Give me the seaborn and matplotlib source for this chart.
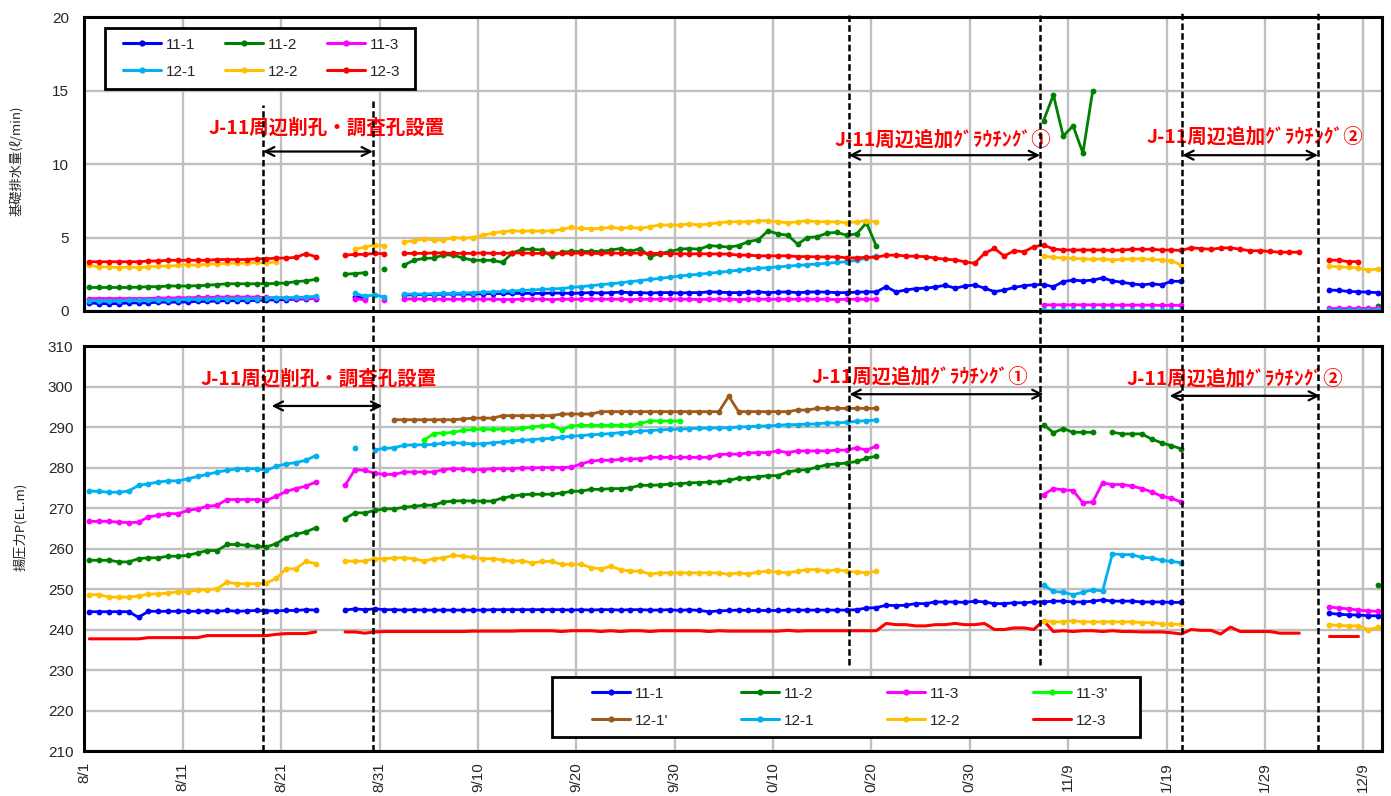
import numpy as np
import pandas as pd
import matplotlib
matplotlib.use("Agg")
import matplotlib.pyplot as plt
import seaborn as sns
from matplotlib.lines import Line2D
from matplotlib.patches import Rectangle
from matplotlib import transforms

# ------------------------------------------------------------------ data
N_DAYS = 132                      # 8/1 .. 12/10
TICK_DAYS = list(range(0, 131, 10))
TICK_LABELS = ["8/1", "8/11", "8/21", "8/31", "9/10", "9/20", "9/30",
               "0/10", "0/20", "0/30", "11/9", "1/19", "1/29", "12/9"]

NAMES_TOP = ["11-1", "11-2", "11-3", "12-1", "12-2", "12-3"]
NAMES_BOT = ["11-1", "11-2", "11-3", "11-3'", "12-1'", "12-1", "12-2", "12-3"]

# ---- foundation drainage (l/min), chunks start at the given date
F11_1 = [("8/1", [0.55, 0.5, 0.5, 0.5, 0.55, 0.55, 0.55, 0.6, 0.6, 0.6,
                  0.62, 0.65, 0.65, 0.68, 0.7, 0.7, 0.7, 0.72, 0.75, 0.75,
                  0.78, 0.8, 0.82, 0.85]),
         ("8/28", [0.95, 0.9]),
         ("9/2", [1.1, 1.1, 1.12, 1.12, 1.15, 1.15, 1.15, 1.15, 1.18, 1.18,
                  1.2, 1.2, 1.2, 1.2, 1.2, 1.22]),
         ("9/18", [1.22, 1.2, 1.22, 1.25, 1.22, 1.25, 1.28, 1.25, 1.25, 1.22,
                   1.25, 1.25, 1.22, 1.25, 1.25, 1.3, 1.28, 1.25, 1.25, 1.28,
                   1.3, 1.25, 1.28, 1.3, 1.25, 1.28, 1.3, 1.28, 1.25, 1.25,
                   1.28, 1.3, 1.3]),
         ("10/21", [1.65, 1.3, 1.43, 1.52, 1.55, 1.63, 1.75, 1.55, 1.7, 1.77,
                    1.55, 1.32, 1.42, 1.6, 1.72, 1.78]),
         ("11/6", [1.8, 1.65, 2.0, 2.1, 2.05, 2.1, 2.25, 2.05, 1.95, 1.85,
                   1.77, 1.85, 1.78, 2.02, 2.02]),
         ("12/5", [1.43, 1.4, 1.33, 1.31, 1.28, 1.25])]

F11_2 = [("8/1", [1.6, 1.6, 1.6, 1.6, 1.6, 1.62, 1.65, 1.65, 1.7, 1.7,
                  1.7, 1.72, 1.75, 1.8, 1.85, 1.85, 1.85, 1.85, 1.85, 1.88,
                  1.9, 2.0, 2.05, 2.15]),
         ("8/27", [2.5, 2.55, 2.6]),
         ("8/31", [2.85]),
         ("9/2", [3.13, 3.45, 3.58, 3.6, 3.82, 3.8, 3.6, 3.45, 3.45, 3.45,
                  3.3, 3.95, 4.2, 4.2, 4.15, 3.72, 4.0, 4.05, 4.05, 4.05,
                  4.05, 4.15, 4.25, 4.05, 4.25, 3.7, 3.9, 4.05, 4.2, 4.25,
                  4.2, 4.45, 4.4, 4.35, 4.45, 4.72, 4.85, 5.45, 5.25, 5.15,
                  4.55, 5.0, 5.05, 5.3, 5.35, 5.15, 5.25, 6.0, 4.41]),
         ("11/6", [12.95, 14.7, 11.9, 12.6, 10.75, 15.0]),
         ("12/10", [0.35])]

F11_3 = [("8/1", [0.85, 0.85, 0.85, 0.85, 0.85, 0.85, 0.85, 0.88, 0.88, 0.9,
                  0.9, 0.92, 0.92, 0.95, 0.95, 0.95, 0.95, 0.95, 0.92, 0.9,
                  0.88, 0.86, 0.86, 0.86]),
         ("8/28", [0.85, 0.75]),
         ("8/31", [0.75]),
         ("9/2", [0.82, 0.82, 0.8, 0.8, 0.8, 0.8, 0.8, 0.8, 0.8, 0.8,
                  0.78, 0.78, 0.8, 0.8, 0.8, 0.78, 0.8, 0.8, 0.8, 0.8,
                  0.8, 0.8, 0.8, 0.78, 0.8, 0.8, 0.8, 0.8, 0.8, 0.8,
                  0.78, 0.8, 0.8, 0.8, 0.78, 0.8, 0.8, 0.8, 0.8, 0.8,
                  0.8, 0.8, 0.8, 0.8, 0.78, 0.8, 0.8, 0.8, 0.8]),
         ("11/6", [0.42, 0.42, 0.42, 0.42, 0.42, 0.42, 0.42, 0.4, 0.4, 0.4,
                   0.4, 0.4, 0.38, 0.38, 0.38]),
         ("12/5", [0.2, 0.2, 0.2, 0.2, 0.2, 0.2])]

F12_1 = [("8/1", [0.7, 0.7, 0.7, 0.7, 0.72, 0.72, 0.75, 0.75, 0.75, 0.78,
                  0.8, 0.8, 0.8, 0.82, 0.85, 0.85, 0.85, 0.85, 0.88, 0.9,
                  0.9, 0.92, 0.95, 1.0]),
         ("8/28", [1.2, 1.0, 1.1, 0.95]),
         ("9/2", [1.15, 1.15, 1.15, 1.18, 1.2, 1.2, 1.22, 1.25, 1.28, 1.3,
                  1.33, 1.36, 1.4, 1.43, 1.47, 1.5, 1.53, 1.6, 1.66, 1.72,
                  1.8, 1.85, 1.92, 2.0, 2.07, 2.15, 2.22, 2.3, 2.38, 2.45,
                  2.5, 2.57, 2.63, 2.7, 2.78, 2.85, 2.9, 2.95, 3.0, 3.05,
                  3.1, 3.15, 3.2, 3.25, 3.3, 3.36, 3.45, 3.6, 3.75]),
         ("11/6", [0.1, 0.1, 0.1, 0.1, 0.1, 0.1, 0.1, 0.1, 0.1, 0.1,
                   0.1, 0.1, 0.1, 0.1, 0.1]),
         ("12/5", [0.1, 0.1, 0.1, 0.1, 0.1, 0.1])]

F12_2 = [("8/1", [3.1, 3.0, 3.0, 2.95, 3.0, 2.95, 3.0, 3.05, 3.05, 3.1,
                  3.15, 3.1, 3.2, 3.2, 3.25, 3.25, 3.25, 3.3, 3.25, 3.35]),
         ("8/28", [4.2, 4.35, 4.5, 4.45]),
         ("9/2", [4.7, 4.78, 4.9, 4.83, 4.83, 5.0, 4.95, 5.0, 5.17, 5.28,
                  5.4, 5.46, 5.42, 5.46, 5.42, 5.46, 5.55, 5.69, 5.62, 5.6,
                  5.62, 5.69, 5.62, 5.69, 5.62, 5.74, 5.85, 5.85, 5.85, 5.92,
                  5.85, 5.92, 6.0, 6.07, 6.07, 6.07, 6.14, 6.14, 6.07, 6.0,
                  6.07, 6.14, 6.07, 6.07, 6.07, 6.0, 6.07, 6.14, 6.07]),
         ("11/6", [3.74, 3.65, 3.6, 3.58, 3.55, 3.51, 3.55, 3.47, 3.51, 3.55,
                   3.55, 3.51, 3.47, 3.42, 3.13]),
         ("12/5", [3.06, 3.0, 2.98, 2.92, 2.79, 2.85])]

F12_3 = [("8/1", [3.35, 3.35, 3.35, 3.35, 3.35, 3.35, 3.4, 3.4, 3.45, 3.45,
                  3.45, 3.45, 3.45, 3.5, 3.5, 3.5, 3.5, 3.55, 3.55, 3.6,
                  3.6, 3.65, 3.9, 3.7]),
         ("8/27", [3.8, 3.85, 3.85, 3.92, 3.9]),
         ("9/2", [3.92, 3.92, 3.92, 3.95, 3.95, 3.92, 3.92, 3.92, 3.95, 3.92,
                  3.92, 3.95, 3.95, 3.92, 3.92, 3.95, 3.92, 3.92, 3.95, 3.92,
                  3.92, 3.95, 3.92, 3.92, 3.95, 3.92, 3.92, 3.9, 3.9, 3.88,
                  3.9, 3.88, 3.88]),
         ("10/5", [3.87, 3.8, 3.8, 3.75, 3.75, 3.75, 3.75, 3.7, 3.7, 3.68,
                   3.68, 3.68, 3.62, 3.62, 3.65, 3.65]),
         ("10/21", [3.8, 3.8, 3.74, 3.72, 3.7, 3.6, 3.52, 3.48, 3.35, 3.24,
                    3.92, 4.26, 3.74, 4.1, 4.03, 4.37]),
         ("11/6", [4.49, 4.22, 4.15, 4.15, 4.15, 4.15, 4.15, 4.12, 4.15, 4.2,
                   4.2, 4.2, 4.15, 4.15, 4.12]),
         ("11/21", [4.3, 4.25, 4.2, 4.28, 4.3, 4.2, 4.1, 4.1, 4.05, 4.0,
                    4.0, 4.0]),
         ("12/5", [3.47, 3.45, 3.36, 3.36])]

# ---- uplift pressure P (EL.m)
P11_1 = [("8/1", [244.4, 244.4, 244.4, 244.4, 244.4, 243.0, 244.5, 244.5, 244.5, 244.5,
                  244.5, 244.5, 244.6, 244.5, 244.7, 244.5, 244.6, 244.7, 244.6, 244.6,
                  244.7, 244.7, 244.9, 244.8]),
         ("8/27", [244.8, 245.1, 244.9, 245.1, 244.9, 244.9, 244.8, 244.9, 244.8, 244.8,
                   244.8, 244.8, 244.8]),
         ("9/9", [244.8, 244.8, 244.9, 244.9, 244.9, 244.9, 244.9, 244.9, 244.9, 244.9,
                  244.8, 244.9, 244.8, 244.9, 244.9, 244.8, 244.9, 244.9, 244.8, 244.8,
                  244.9, 244.7, 244.9, 244.7, 244.4, 244.6, 244.7, 244.8, 244.7, 244.7,
                  244.7, 244.7, 244.8, 244.8, 244.8, 244.8, 244.8, 244.8, 244.8, 244.9,
                  245.3, 245.4]),
         ("10/21", [246.0, 245.9, 246.0, 246.4, 246.4, 246.8, 246.8, 246.8, 246.7, 247.0,
                    246.8, 246.4, 246.4, 246.6, 246.6, 246.8]),
         ("11/6", [246.8, 247.0, 247.0, 246.8, 246.8, 247.0, 247.3, 247.0, 247.0, 247.0,
                   246.8, 246.8, 246.8, 246.7, 246.7]),
         ("12/5", [244.0, 243.8, 243.6, 243.6, 243.4, 243.4])]

P11_2 = [("8/1", [257.1, 257.1, 257.1, 256.7, 256.7, 257.5, 257.7, 257.7, 258.1, 258.1,
                  258.3, 258.9, 259.5, 259.5, 261.0, 261.0, 260.8, 260.5, 260.4, 261.2,
                  262.7, 263.5, 264.1, 265.1]),
         ("8/27", [267.4, 268.8, 268.8, 269.4, 269.8, 269.8, 270.2, 270.4, 270.7, 270.7,
                   271.5, 271.7, 271.8]),
         ("9/9", [271.7, 271.7, 271.7, 272.5, 272.9, 273.3, 273.4, 273.4, 273.4, 273.7,
                  274.1, 274.2, 274.6, 274.6, 274.8, 274.8, 275.0, 275.6, 275.6, 275.7,
                  275.9, 276.0, 276.2, 276.3, 276.4, 276.5, 276.8, 277.4, 277.5, 277.7,
                  278.0, 278.0, 278.9, 279.3, 279.5, 280.1, 280.7, 280.9, 281.1, 281.5,
                  282.3, 282.8]),
         ("11/6", [290.6, 288.6, 289.6, 288.7, 288.7, 288.7]),
         ("11/13", [288.7, 288.3, 288.3, 288.3, 287.0, 286.1, 285.4, 284.6]),
         ("12/10", [251.0])]

P11_3 = [("8/1", [266.7, 266.7, 266.7, 266.5, 266.4, 266.5, 267.8, 268.2, 268.6, 268.6,
                  269.4, 269.8, 270.4, 270.7, 272.1, 272.1, 272.1, 272.1, 271.9, 272.9,
                  274.1, 274.8, 275.4, 276.4]),
         ("8/27", [275.6, 279.5, 279.3, 278.6, 278.3, 278.3, 278.9, 278.9, 278.9, 278.9,
                   279.5, 279.7, 279.6]),
         ("9/9", [279.5, 279.5, 279.7, 279.7, 279.7, 279.9, 279.9, 280.0, 280.0, 280.0,
                  280.1, 280.9, 281.6, 281.8, 281.8, 282.0, 282.1, 282.2, 282.5, 282.5,
                  282.5, 282.5, 282.5, 282.5, 282.5, 283.2, 283.3, 283.3, 283.6, 283.7,
                  283.7, 284.1, 283.7, 284.1, 284.1, 284.1, 284.1, 284.3, 284.3, 284.9,
                  284.3, 285.3]),
         ("11/6", [273.3, 274.8, 274.5, 274.3, 271.3, 271.5, 276.2, 275.8, 275.8, 275.4,
                   274.8, 274.0, 272.9, 272.4, 271.5]),
         ("12/5", [245.6, 245.3, 245.1, 244.8, 244.6, 244.5])]

P11_3P = [("9/4", [286.7, 288.4, 288.5, 288.7, 289.2]),
          ("9/9", [289.4, 289.5, 289.4, 289.5, 289.4, 289.7, 290.0, 290.3, 290.4, 289.3,
                   290.3, 290.4, 290.4, 290.4, 290.4, 290.4, 290.4, 290.9, 291.5, 291.5,
                   291.5, 291.5])]

P12_1P = [("9/1", [291.8, 291.8, 291.8, 291.8, 291.8, 291.8, 291.8, 292.0]),
          ("9/9", [292.2, 292.2, 292.2, 292.8, 292.8, 292.8, 292.8, 292.8, 292.8, 293.2,
                   293.2, 293.2, 293.2, 293.8, 293.8, 293.8, 293.8, 293.8, 293.8, 293.8,
                   293.8, 293.8, 293.8, 293.8, 293.8, 293.8, 297.6, 293.8, 293.8, 293.8,
                   293.8, 293.8, 293.8, 294.2, 294.2, 294.6, 294.6, 294.6, 294.6, 294.6,
                   294.6, 294.6])]

P12_1 = [("8/1", [274.2, 274.1, 273.9, 273.9, 274.2, 275.6, 276.0, 276.4, 276.7, 276.7,
                  277.2, 277.8, 278.3, 278.9, 279.3, 279.7, 279.7, 279.7, 279.3, 280.3,
                  280.9, 281.2, 281.8, 282.9]),
         ("8/28", [284.7]),
         ("8/30", [284.4, 284.7, 284.9, 285.5, 285.6, 285.6, 285.7, 286.0, 286.1, 286.0]),
         ("9/9", [285.8, 285.9, 286.1, 286.3, 286.6, 286.7, 286.9, 287.1, 287.2, 287.5,
                  287.7, 287.9, 288.1, 288.2, 288.4, 288.6, 288.7, 289.0, 289.1, 289.3,
                  289.4, 289.5, 289.6, 289.7, 289.7, 289.8, 289.8, 290.0, 290.1, 290.2,
                  290.3, 290.4, 290.6, 290.6, 290.7, 290.8, 291.0, 291.0, 291.2, 291.4,
                  291.6, 291.7]),
         ("11/6", [251.0, 249.4, 249.2, 248.6, 249.2, 249.8, 249.5, 258.7, 258.5, 258.5,
                   257.8, 257.7, 257.1, 256.8, 256.5])]

P12_2 = [("8/1", [248.6, 248.6, 248.0, 248.0, 248.0, 248.3, 248.7, 248.8, 249.0, 249.3,
                  249.3, 249.8, 249.8, 250.1, 251.7, 251.3, 251.3, 251.3, 251.5, 252.6,
                  255.0, 255.0, 256.8, 256.3]),
         ("8/27", [256.9, 256.9, 256.9, 257.5, 257.5, 257.7, 257.7, 257.5, 256.9, 257.5,
                   257.7, 258.3, 258.1]),
         ("9/9", [257.8, 257.5, 257.5, 257.2, 256.8, 257.0, 256.4, 256.8, 256.8, 256.1,
                  256.1, 256.1, 255.3, 255.0, 255.6, 254.8, 254.4, 254.4, 253.7, 254.0,
                  254.0, 254.0, 254.0, 254.0, 254.0, 254.0, 253.6, 254.0, 253.7, 254.2,
                  254.4, 254.2, 254.0, 254.4, 254.8, 254.8, 254.4, 254.8, 254.4, 254.2,
                  254.0, 254.4]),
         ("11/6", [242.2, 241.9, 241.9, 242.2, 241.9, 241.9, 241.9, 241.9, 241.9, 241.9,
                   241.7, 241.7, 241.4, 241.3, 241.3]),
         ("12/5", [241.2, 241.0, 240.9, 240.9, 240.0, 240.5])]

P12_3 = [("8/1", [237.7, 237.7, 237.7, 237.7, 237.7, 237.7, 238.0, 238.0, 238.0, 238.0,
                  238.0, 238.0, 238.5, 238.5, 238.5, 238.5, 238.5, 238.5, 238.5, 238.8,
                  239.0, 239.0, 239.0, 239.4]),
         ("8/27", [239.4, 239.4, 239.1, 239.4, 239.5, 239.5, 239.5, 239.5, 239.5, 239.5,
                   239.5, 239.5, 239.5]),
         ("9/9", [239.6, 239.6, 239.6, 239.6, 239.6, 239.7, 239.7, 239.7, 239.7, 239.5,
                  239.7, 239.7, 239.7, 239.5, 239.7, 239.5, 239.7, 239.7, 239.5, 239.7,
                  239.7, 239.7, 239.7, 239.7, 239.5, 239.7, 239.6, 239.6, 239.6, 239.6,
                  239.6, 239.6, 239.8, 239.6, 239.7, 239.7, 239.7, 239.7, 239.7, 239.7,
                  239.7, 239.7]),
         ("10/21", [241.5, 241.2, 241.2, 240.9, 240.9, 241.2, 241.2, 241.5, 241.2, 241.2,
                    241.5, 240.0, 240.0, 240.4, 240.4, 240.0]),
         ("11/6", [242.2, 239.5, 239.7, 239.5, 239.7, 239.7, 239.5, 239.7, 239.5, 239.5,
                   239.4, 239.4, 239.4, 239.2, 238.9, 240.0, 239.8, 239.8, 238.9, 240.6,
                   239.5, 239.5, 239.5, 239.5, 239.1, 239.1, 239.1]),
         ("12/5", [238.4, 238.4, 238.4, 238.4])]

COLORS = {"11-1": "#0000FF", "11-2": "#008000", "11-3": "#FF00FF", "11-3'": "#00FF00",
          "12-1'": "#9C5A1E", "12-1": "#00B0F0", "12-2": "#FFC000", "12-3": "#FF0000"}

TOP_SERIES = {"11-1": F11_1, "11-2": F11_2, "11-3": F11_3,
              "12-1": F12_1, "12-2": F12_2, "12-3": F12_3}
BOT_SERIES = {"12-3": P12_3, "11-1": P11_1, "12-2": P12_2, "11-2": P11_2,
              "11-3": P11_3, "12-1": P12_1, "11-3'": P11_3P, "12-1'": P12_1P}

NOTE_1 = "J-11周辺削孔・調査孔設置"
NOTE_2 = "J-11周辺追加ｸﾞﾗｳﾁﾝｸﾞ①"
NOTE_3 = "J-11周辺追加ｸﾞﾗｳﾁﾝｸﾞ②"

# ------------------------------------------------------------------ helpers
BASE = pd.Timestamp(2001, 8, 1)


def day_of(md):
    m, d = map(int, md.split("/"))
    return (pd.Timestamp(2001, m, d) - BASE).days


def build(chunks):
    arr = np.full(N_DAYS, np.nan)
    for md, vals in chunks:
        i = day_of(md)
        arr[i:i + len(vals)] = vals
    return arr


def draw(ax, arr, color, marker=True, lw=2.0):
    idx = np.flatnonzero(~np.isnan(arr))
    for run in np.split(idx, np.flatnonzero(np.diff(idx) > 1) + 1):
        df = pd.DataFrame({"day": run + 0.5, "v": arr[run]})
        kw = dict(color=color, lw=lw, estimator=None, legend=False, ax=ax)
        if marker:
            kw.update(marker="o", markersize=4.2, markeredgecolor=color,
                      markeredgewidth=0)
        sns.lineplot(data=df, x="day", y="v", **kw)


# ------------------------------------------------------------------ style
sns.set_theme(style="white")
plt.rcParams["font.family"] = ["Liberation Sans", "Noto Sans CJK JP", "DejaVu Sans"]
JP = ["Noto Sans CJK JP", "DejaVu Sans"]
GRID = "#BFBFBF"

fig = plt.figure(figsize=(13.91, 7.96), dpi=100)
ax1 = fig.add_axes([0.0607, 0.6093, 0.9328, 0.3693])
ax2 = fig.add_axes([0.0607, 0.0565, 0.9328, 0.5088])

for name, chunks in TOP_SERIES.items():
    draw(ax1, build(chunks), COLORS[name])
for name, chunks in BOT_SERIES.items():
    draw(ax2, build(chunks), COLORS[name], marker=(name != "12-3"),
         lw=(2.2 if name == "12-3" else 2.0))

for ax in (ax1, ax2):
    ax.set_xlim(0, 131.9)
    ax.set_xticks(TICK_DAYS)
    ax.set_axisbelow(True)
    ax.grid(True, color=GRID, lw=1.7)
    ax.tick_params(length=0, labelsize=11)
    for sp in ax.spines.values():
        sp.set_color("black")
        sp.set_linewidth(2.2)
    ax.set_xlabel("")

ax1.set_ylim(0, 20)
ax1.set_yticks([0, 5, 10, 15, 20])
ax1.tick_params(axis="x", labelbottom=False)
ax1.tick_params(axis="y", pad=11)
ax1.set_ylabel("基礎排水量(ℓ/min)", fontsize=9.5, family=JP)
ax1.yaxis.set_label_coords(-0.047, 0.51)

ax2.set_ylim(210, 310)
ax2.set_yticks(range(210, 311, 10))
ax2.set_xticklabels(TICK_LABELS, rotation=90, va="top", ha="center")
ax2.tick_params(axis="y", pad=8)
ax2.tick_params(axis="x", pad=8)
ax2.set_ylabel("揚圧力P(EL.m)", fontsize=9.5, family=JP)
ax2.yaxis.set_label_coords(-0.044, 0.553)

# annotations: red notes + double arrows
note_kw = dict(ha="center", va="center", color="#FF0000", fontsize=14,
               fontweight="bold", family=JP, zorder=7)
arrow_kw = dict(arrowstyle="<->", color="black", lw=1.6, shrinkA=0, shrinkB=0,
                mutation_scale=16)
for ax, notes, arrows in (
        (ax1, [(NOTE_1, 24.66, 12.45), (NOTE_2, 87.3, 11.63), (NOTE_3, 118.96, 11.86)],
         [(18.15, 29.33, 10.85), (77.7, 97.15, 10.6), (111.6, 125.4, 10.6)]),
        (ax2, [(NOTE_1, 23.84, 301.8), (NOTE_2, 84.9, 302.4), (NOTE_3, 117.0, 301.85)],
         [(19.03, 30.28, 295.2), (77.76, 97.5, 298.1), (110.3, 125.6, 297.7)])):
    for txt, x, y in notes:
        ax.text(x, y, txt, **note_kw)
    for x0, x1, y in arrows:
        ax.annotate("", xy=(x1, y), xytext=(x0, y), arrowprops=arrow_kw, zorder=7)

# dashed event lines spanning both panels
tr = transforms.blended_transform_factory(ax2.transData, fig.transFigure)
for x, y0, y1 in [(18.15, 0.0565, 0.868), (29.33, 0.0565, 0.874),
                  (77.7, 0.1646, 0.985), (97.15, 0.1646, 0.985),
                  (111.6, 0.0565, 0.985), (125.4, 0.0565, 0.985)]:
    fig.add_artist(Line2D([x, x], [y0, y1], transform=tr, color="black", lw=1.8,
                          ls=(0, (2.6, 1.3)), zorder=6))


def handle(name, marker=True):
    return Line2D([], [], color=COLORS[name], lw=2.2,
                  marker="o" if marker else None, markersize=4.5,
                  markeredgewidth=0)


# top legend (3 columns)
ax1.add_patch(Rectangle((0.0158, 0.755), 0.2389, 0.2076, transform=ax1.transAxes,
                        facecolor="white", edgecolor="black", lw=2, zorder=4.5))
top_order = ["11-1", "12-1", "11-2", "12-2", "11-3", "12-3"]
leg1 = ax1.legend([handle(n) for n in top_order], top_order, ncol=3, mode="expand",
                  loc="center", bbox_to_anchor=(0.0297, 0.8605, 0.2135, 0.0),
                  frameon=False, borderpad=0, borderaxespad=0, fontsize=11,
                  handlelength=2.5, handletextpad=0.3, labelspacing=0.85)
leg1.set_zorder(5)

# bottom legend (4 columns)
ax2.add_patch(Rectangle((0.3603, 0.0346), 0.4532, 0.1481, transform=ax2.transAxes,
                        facecolor="white", edgecolor="black", lw=2, zorder=4.5))
bot_order = ["11-1", "12-1'", "11-2", "12-1", "11-3", "12-2", "11-3'", "12-3"]
leg2 = ax2.legend([handle(n, n != "12-3") for n in bot_order], bot_order, ncol=4,
                  mode="expand", loc="center",
                  bbox_to_anchor=(0.3911, 0.1086, 0.3977, 0.0),
                  frameon=False, borderpad=0, borderaxespad=0, fontsize=11,
                  handlelength=2.5, handletextpad=0.3, labelspacing=0.85)
leg2.set_zorder(5)

fig.savefig("out.png", dpi=100)
